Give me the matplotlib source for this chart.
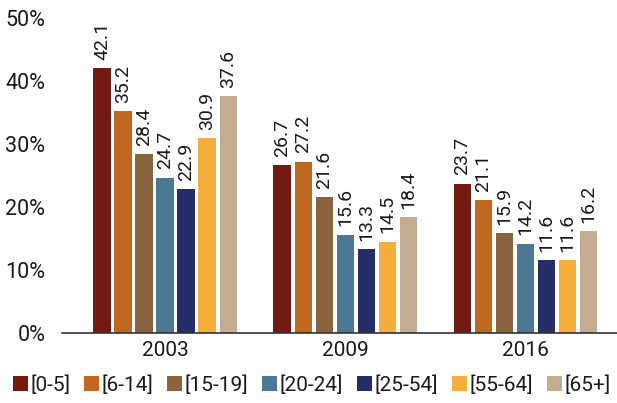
import matplotlib
matplotlib.use("Agg")
import matplotlib.pyplot as plt
import numpy as np

years = ["2003", "2009", "2016"]
age_groups = ["[0-5]", "[6-14]", "[15-19]", "[20-24]", "[25-54]", "[55-64]", "[65+]"]
values = {
    "[0-5]":   [42.1, 26.7, 23.7],
    "[6-14]":  [35.2, 27.2, 21.1],
    "[15-19]": [28.4, 21.6, 15.9],
    "[20-24]": [24.7, 15.6, 14.2],
    "[25-54]": [22.9, 13.3, 11.6],
    "[55-64]": [30.9, 14.5, 11.6],
    "[65+]":   [37.6, 18.4, 16.2],
}
colors = ["#731A12", "#C0671F", "#8A6341", "#4C7893", "#252E66", "#F5AE3B", "#C4AC92"]
yticks = [0, 10, 20, 30, 40, 50]

plt.rcParams["font.family"] = ["Roboto", "DejaVu Sans"]

fig = plt.figure(figsize=(6.17, 4.03), dpi=100)
ax = fig.add_axes([0.1005, 0.1737, 0.8995, 0.781])

x = np.arange(len(years))
slot = 0.1167
width = 0.095
for i, (grp, col) in enumerate(zip(age_groups, colors)):
    offs = (i - 3) * slot
    bars = ax.bar(x + offs, values[grp], width=width, color=col, label=grp)
    for b, v in zip(bars, values[grp]):
        ax.annotate(f"{v:.1f}", (b.get_x() + b.get_width() / 2, v),
                    xytext=(0, 6), textcoords="offset points",
                    rotation=90, ha="center", va="bottom", fontsize=14,
                    color="#1a1a1a")

ax.set_ylim(0, 50)
ax.set_xlim(-0.572, 2.51)
ax.set_yticks(yticks)
ax.set_yticklabels([f"{t}%" for t in yticks], fontsize=15.5, color="#1a1a1a")
ax.set_xticks(x)
ax.set_xticklabels(years, fontsize=15, color="#1a1a1a")
ax.tick_params(axis="both", length=0)
ax.tick_params(axis="y", pad=12)
ax.tick_params(axis="x", pad=6)
for s in ["top", "right", "left"]:
    ax.spines[s].set_visible(False)
ax.spines["bottom"].set_color("#333333")
ax.spines["bottom"].set_linewidth(1.2)

leg = fig.legend(loc="center", bbox_to_anchor=(0.505, 0.045), ncol=7, frameon=False,
                 fontsize=15, handlelength=0.7, handleheight=0.7,
                 handletextpad=0.12, columnspacing=0.68, borderaxespad=0)
for t in leg.get_texts():
    t.set_color("#1a1a1a")

fig.savefig("out.png", dpi=100)
